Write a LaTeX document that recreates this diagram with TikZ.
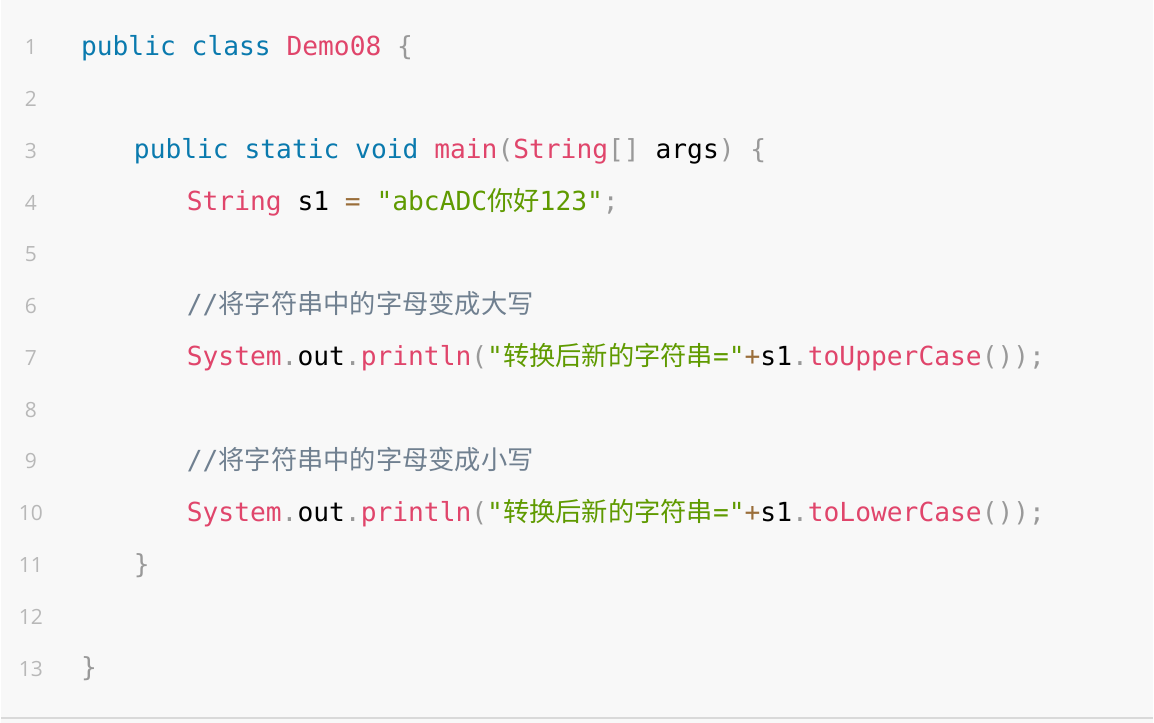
\documentclass[tikz,border=0pt]{standalone}
\usepackage{fontspec}
\setmonofont{DejaVu Sans Mono}
\newfontfamily\cjk{Noto Sans CJK SC}
\newfontfamily\numfont{Open Sans}
\definecolor{kw}{HTML}{0A7AAE}
\definecolor{rd}{HTML}{E0456B}
\definecolor{gr}{HTML}{5F9A00}
\definecolor{cm}{HTML}{708090}
\definecolor{op}{HTML}{9A6E3A}
\definecolor{pn}{HTML}{999999}
\definecolor{ln}{HTML}{B8B8B8}
\definecolor{bg}{HTML}{F8F8F8}
\newcommand{\K}[1]{\textcolor{kw}{#1}}
\newcommand{\R}[1]{\textcolor{rd}{#1}}
\newcommand{\G}[1]{\textcolor{gr}{#1}}
\newcommand{\C}[1]{\textcolor{cm}{#1}}
\newcommand{\Op}[1]{\textcolor{op}{#1}}
\newcommand{\Pn}[1]{\textcolor{pn}{#1}}
\newcommand{\Z}[1]{{\cjk #1}}
\begin{document}
\begin{tikzpicture}[x=1pt,y=-1pt,
  code/.style={anchor=base west,inner sep=0pt,font=\ttfamily\fontsize{26.3}{30}\selectfont},
  lnum/.style={anchor=base,inner sep=0pt,text=ln,font=\numfont\fontsize{21}{24}\selectfont}]
\fill[bg] (0,0) rectangle (1154,724);
\draw[black!15,line width=2pt] (0,719) -- (1154,719);
\useasboundingbox (0,0) rectangle (1154,724);
\foreach \i in {1,...,13}{\node[lnum] (n\i) at (30,{47+(\i-1)*51.85+8}) {\i};}
\node[code] (l1) at (80,56) {\K{public class} \R{Demo08} \Pn{\{}};
\node[code] (l3) at (133,159) {\K{public static void} \R{main}\Pn{(}\R{String}\Pn{[]} args\Pn{)} \Pn{\{}};
\node[code] (l4) at (186,211) {\R{String} s1 \Op{=} \G{"abcADC\Z{你好}123"}\Pn{;}};
\node[code] (l6) at (186,314) {\C{//\Z{将字符串中的字母变成大写}}};
\node[code] (l7) at (186,366) {\R{System}\Pn{.}out\Pn{.}\R{println}\Pn{(}\G{"\Z{转换后新的字符串}="}\Op{+}s1\Pn{.}\R{toUpperCase}\Pn{());}};
\node[code] (l9) at (186,470) {\C{//\Z{将字符串中的字母变成小写}}};
\node[code] (l10) at (186,522) {\R{System}\Pn{.}out\Pn{.}\R{println}\Pn{(}\G{"\Z{转换后新的字符串}="}\Op{+}s1\Pn{.}\R{toLowerCase}\Pn{());}};
\node[code] (l11) at (133,574) {\Pn{\}}};
\node[code] (l13) at (80,678) {\Pn{\}}};
\end{tikzpicture}
\end{document}
